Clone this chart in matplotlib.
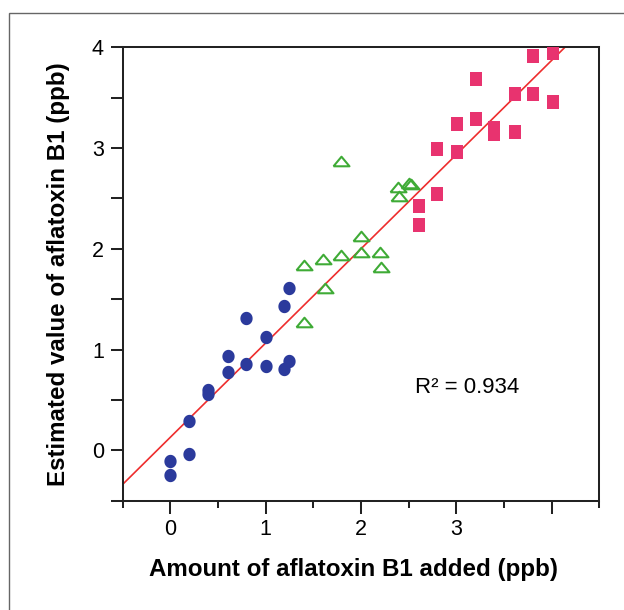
import numpy as np
import matplotlib
matplotlib.use('Agg')
import matplotlib.pyplot as plt
from matplotlib.patches import Rectangle

plt.rcParams['font.family'] = ['Liberation Sans', 'DejaVu Sans']

# Dados
low_x = [0.0, 0.0, 0.2, 0.2, 0.39, 0.4, 0.6, 0.6, 0.79, 0.79, 1.0, 1.0, 1.19, 1.24, 1.19, 1.24]
low_y = [-0.11, -0.24, 0.29, -0.04, 0.6, 0.56, 0.94, 0.78, 1.31, 0.86, 1.12, 0.84, 1.43, 1.61, 0.81, 0.89]

mid_x = [1.4, 1.4, 1.6, 1.62, 1.79, 1.79, 2.0, 2.0, 2.2, 2.21, 2.39, 2.4, 2.5, 2.52]
mid_y = [1.835, 1.27, 1.9, 1.61, 1.94, 2.87, 2.125, 1.97, 1.97, 1.82, 2.61, 2.52, 2.65, 2.64]

high_x = [2.61, 2.61, 2.8, 2.8, 3.01, 3.01, 3.21, 3.21, 3.4, 3.4, 3.62, 3.62, 3.8, 3.8, 4.01, 4.01]
high_y = [2.42, 2.24, 2.99, 2.54, 3.24, 2.96, 3.69, 3.29, 3.2, 3.14, 3.54, 3.16, 3.91, 3.54, 3.94, 3.46]

fit_slope = 0.935
fit_intercept = 0.13
r2_value = 0.934

x_labels = ['0', '1', '2', '3', '']
y_labels = ['0', '1', '2', '3', '4']

fig = plt.figure(figsize=(6.24, 6.10), dpi=100)
ax = fig.add_axes([122.7 / 624, (610 - 500.7) / 610, 476.6 / 624, 453.4 / 610])

# Linha de regressao
line_x = np.array([-0.5, 4.5])
ax.plot(line_x, fit_slope * line_x + fit_intercept, color='#ee2d2d', lw=1.2, zorder=2)

# Pontos
oval = [(-0.46, 0.0)] + [(0.46 * np.cos(t), 0.5 * np.sin(t)) for t in np.linspace(np.pi, -np.pi, 41)[1:]]
ax.plot(low_x, low_y, linestyle='none', marker=oval, color='#2b3a9c', markersize=9.6,
        markeredgewidth=0, zorder=3)
tri = [(-1, -0.6), (1, -0.6), (0, 0.6), (-1, -0.6)]
ax.plot(mid_x, mid_y, linestyle='none', marker=tri, markersize=11.5, markerfacecolor='none',
        markeredgecolor='#3fab36', markeredgewidth=1.5, zorder=3)
rect = [(-0.42, -0.5), (0.42, -0.5), (0.42, 0.5), (-0.42, 0.5), (-0.42, -0.5)]
ax.plot(high_x, high_y, linestyle='none', marker=rect, markersize=9.6, color='#e8336f',
        markeredgewidth=0, zorder=3)

ax.text(2.57, 0.569, 'R² = %.3f' % r2_value, fontsize=16, ha='left', va='baseline')

ax.set_xlim(-0.5, 4.5)
ax.set_ylim(-0.5, 4)
ax.set_xticks([0, 1, 2, 3, 4])
ax.set_xticklabels(x_labels)
ax.set_xticks(np.arange(-0.5, 4.6, 1), minor=True)
ax.set_yticks([0, 1, 2, 3, 4])
ax.set_yticklabels(y_labels)
ax.set_yticks(np.arange(-0.5, 4.0, 1), minor=True)

ax.tick_params(axis='x', which='major', length=9.4, width=1.45, pad=4, labelsize=15.5, color='#222222')
ax.tick_params(axis='x', which='minor', length=5, width=1.45, color='#222222')
ax.tick_params(axis='y', which='both', length=8.6, width=1.45, pad=5, labelsize=15.5, color='#222222')
for s in ax.spines.values():
    s.set_linewidth(1.45)
    s.set_color('#222222')

fig.text(353.5 / 624, 1 - 576 / 610, 'Amount of aflatoxin B1 added (ppb)', fontsize=17.4,
         fontweight='bold', ha='center', va='baseline')
fig.text(65 / 624, 1 - 274 / 610, 'Estimated value of aflatoxin B1 (ppb)', fontsize=17.4,
         fontweight='bold', ha='center', va='baseline', rotation=90, rotation_mode='anchor')

# Moldura externa
fig.add_artist(Rectangle((8.7 / 624, -0.1), 1.2, (610 - 12.7) / 610 + 0.1, transform=fig.transFigure,
                         fill=False, edgecolor='#666666', linewidth=1.0))

fig.savefig('out.png', dpi=100)
